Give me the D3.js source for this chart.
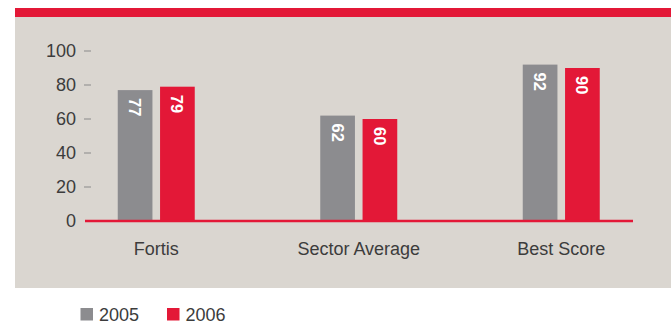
<!DOCTYPE html>
<html>
<head>
<meta charset="utf-8">
<script src="https://cdn.jsdelivr.net/npm/d3@7"></script>
<style>
  body { margin: 0; background: #fff; }
  svg { display: block; font-family: "Liberation Sans", Arial, sans-serif; }
</style>
</head>
<body>
<div id="chart"></div>
<script>
// data
var categories = ["Fortis", "Sector Average", "Best Score"];
var years = ["2005", "2006"];
var values2005 = [77, 62, 92];
var values2006 = [79, 60, 90];
var yTicks = [0, 20, 40, 60, 80, 100];

var colors = {"2005": "#8c8c8f", "2006": "#e31837"};

var W = 671, H = 324;
var svg = d3.select("#chart").append("svg")
    .attr("width", W)
    .attr("height", H);

// red band + grey panel
svg.append("rect").attr("x", 15).attr("y", 17).attr("width", W - 15).attr("height", 271)
    .attr("fill", "#dad6d0");
svg.append("rect").attr("x", 15).attr("y", 8).attr("width", W - 15).attr("height", 9)
    .attr("fill", "#e31837");

var rows = categories.map(function(c, i) {
  return {cat: c, vals: [{year: "2005", v: values2005[i]}, {year: "2006", v: values2006[i]}]};
});

// scales
var x0 = d3.scaleBand().domain(categories).range([55, 662.5]);
var x1 = d3.scaleBand().domain(years).range([-38.5, 38.5]).paddingInner(0.18);
var y = d3.scaleLinear().domain([0, 100]).range([221, 51]);

// y axis: dash ticks, labels
var yAxis = svg.append("g");
yAxis.selectAll("line").data(yTicks).enter().append("line")
    .attr("x1", 84).attr("x2", 91)
    .attr("y1", function(d) { return y(d); })
    .attr("y2", function(d) { return y(d); })
    .attr("stroke", "#8a8a8a").attr("stroke-width", 1)
    .style("display", function(d) { return d === 0 ? "none" : null; });
yAxis.selectAll("text").data(yTicks).enter().append("text")
    .attr("x", 76)
    .attr("y", function(d) { return y(d); })
    .attr("dy", "0.36em")
    .attr("text-anchor", "end")
    .attr("fill", "#3c3c3c")
    .style("font-size", "18px")
    .text(function(d) { return d; });

// bars
var groups = svg.selectAll(".grp").data(rows).enter().append("g")
    .attr("class", "grp")
    .attr("transform", function(d) { return "translate(" + (x0(d.cat) + x0.bandwidth() / 2) + ",0)"; });

groups.selectAll("rect").data(function(d) { return d.vals; }).enter().append("rect")
    .attr("x", function(d) { return x1(d.year); })
    .attr("width", x1.bandwidth())
    .attr("y", function(d) { return y(d.v); })
    .attr("height", function(d) { return y(0) - y(d.v); })
    .attr("fill", function(d) { return colors[d.year]; });

// value labels rotated
groups.selectAll(".val").data(function(d) { return d.vals; }).enter().append("text")
    .attr("class", "val")
    .attr("transform", function(d) {
      return "translate(" + (x1(d.year) + x1.bandwidth() / 2) + "," + (y(d.v) + 8) + ") rotate(90)";
    })
    .attr("dy", "0.36em")
    .attr("fill", "#fff")
    .style("font-size", "16.5px")
    .style("font-weight", "bold")
    .text(function(d) { return d.v; });

// baseline
svg.append("line")
    .attr("x1", 85).attr("x2", 633)
    .attr("y1", y(0)).attr("y2", y(0))
    .attr("stroke", "#e31837").attr("stroke-width", 2.5);

// category labels
svg.selectAll(".cat").data(categories).enter().append("text")
    .attr("class", "cat")
    .attr("x", function(d) { return x0(d) + x0.bandwidth() / 2; })
    .attr("y", 255)
    .attr("text-anchor", "middle")
    .attr("fill", "#3c3c3c")
    .style("font-size", "18px")
    .text(function(d) { return d; });

// legend
var legendX = [80.5, 167];
var legend = svg.selectAll(".leg").data(years).enter().append("g")
    .attr("class", "leg")
    .attr("transform", function(d, i) { return "translate(" + legendX[i] + ",308)"; });
legend.append("rect").attr("width", 12.5).attr("height", 12.5)
    .attr("fill", function(d) { return colors[d]; });
legend.append("text")
    .attr("x", 18.5).attr("y", 12.5)
    .attr("fill", "#3c3c3c")
    .style("font-size", "18px")
    .text(function(d) { return d; });
</script>
</body>
</html>
